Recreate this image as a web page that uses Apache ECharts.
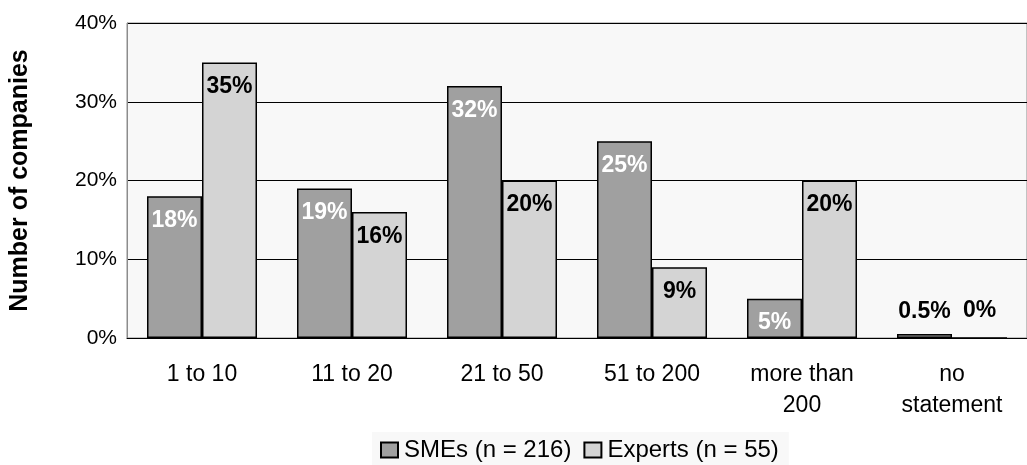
<!DOCTYPE html>
<html>
<head>
<meta charset="utf-8">
<script src="https://cdn.jsdelivr.net/npm/echarts@6/dist/echarts.min.js"></script>
<style>
  html, body { margin: 0; padding: 0; background: #ffffff; }
  #chart { width: 1027px; height: 465px; }
</style>
</head>
<body>
<div id="chart"></div>
<script>
// Company size groups (number of employees)
const categories = ['1 to 10', '11 to 20', '21 to 50', '51 to 200', 'more than\n200', 'no\nstatement'];
const seriesNames = ['SMEs (n = 216)', 'Experts (n = 55)'];
// Share of companies per group, in percent
const smeValues = [18, 19, 32, 25, 5, 0.5];
const expertValues = [35, 16, 20, 9, 20, 0];
const yTicks = { min: 0, max: 40, interval: 10 };

const FONT = "'Liberation Sans', Arial, sans-serif";

function fmt(v) { return v + '%'; }

// Small bars get their label above the bar, the others inside at the top
function buildData(values, color) {
  return values.map(v => {
    const small = v < 3;
    return {
      value: v,
      label: {
        position: small ? 'top' : 'insideTop',
        distance: small ? (v > 0 ? 11 : 15) : 13,
        color: small ? '#000000' : color
      }
    };
  });
}

const chart = echarts.init(document.getElementById('chart'), null, { renderer: 'canvas' });

const labelBase = {
  show: true,
  fontFamily: FONT,
  fontSize: 23,
  fontWeight: 'bold',
  formatter: p => fmt(p.value)
};

chart.setOption({
  animation: false,
  backgroundColor: '#ffffff',
  textStyle: { fontFamily: FONT },
  grid: {
    left: 125, top: 23, width: 910, height: 315,
    show: true,
    backgroundColor: '#f8f8f8',
    borderColor: '#8c8c8c',
    borderWidth: 1
  },
  legend: {
    left: 372, top: 432,
    padding: [6, 10, 6, 8],
    backgroundColor: '#f8f8f8',
    itemWidth: 17, itemHeight: 15,
    itemGap: 12,
    icon: 'rect',
    textStyle: { fontFamily: FONT, fontSize: 24, color: '#000000', padding: [0, 0, 0, 1] },
    data: seriesNames
  },
  xAxis: {
    type: 'category',
    data: categories,
    axisTick: { show: false },
    axisLine: { lineStyle: { color: '#000000', width: 1 } },
    axisLabel: {
      fontFamily: FONT, fontSize: 23, color: '#000000',
      lineHeight: 31, margin: 21, interval: 0
    }
  },
  yAxis: {
    type: 'value',
    min: yTicks.min, max: yTicks.max, interval: yTicks.interval,
    name: 'Number of companies',
    nameLocation: 'middle',
    nameGap: 94,
    nameTextStyle: { fontFamily: FONT, fontSize: 25, fontWeight: 'bold', color: '#000000' },
    axisLine: { show: true, lineStyle: { color: '#8c8c8c' } },
    axisTick: { show: false },
    splitLine: { lineStyle: { color: '#000000', width: 1 } },
    axisLabel: {
      fontFamily: FONT, fontSize: 21, color: '#000000', margin: 10,
      formatter: v => v + '%'
    }
  },
  series: [
    {
      name: seriesNames[0],
      type: 'bar',
      barWidth: 55,
      barGap: '0%',
      itemStyle: { color: '#a0a0a0', borderColor: '#000000', borderWidth: 1.5 },
      label: Object.assign({}, labelBase, { color: '#ffffff' }),
      data: buildData(smeValues, '#ffffff')
    },
    {
      name: seriesNames[1],
      type: 'bar',
      barWidth: 55,
      barGap: '0%',
      itemStyle: { color: '#d4d4d4', borderColor: '#000000', borderWidth: 1.5 },
      label: Object.assign({}, labelBase, { color: '#000000' }),
      data: buildData(expertValues, '#000000')
    }
  ]
});
</script>
</body>
</html>
